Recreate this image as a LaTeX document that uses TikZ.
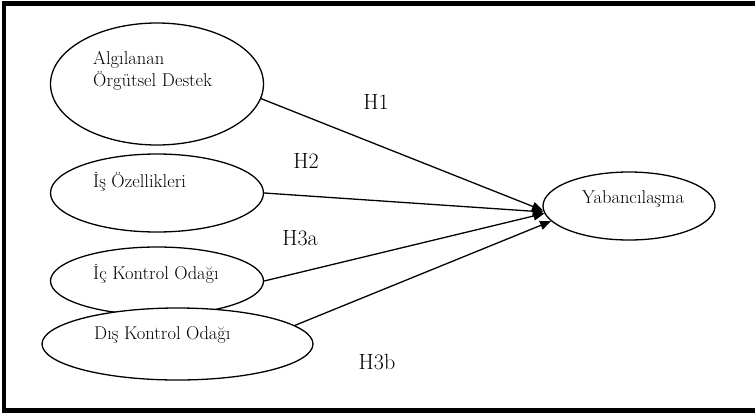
\documentclass[tikz,border=0pt]{standalone}
\usepackage{fontspec}
\usetikzlibrary{shapes.geometric,arrows.meta}
\begin{document}
\begin{tikzpicture}[x=1pt,y=-1pt,
  ell/.style={ellipse,draw,line width=1.3pt,fill=white,inner sep=0pt},
  lbl/.style={font=\fontsize{18.5}{22}\selectfont,inner sep=0pt,anchor=west,align=left},
  hyp/.style={font=\fontsize{22}{26}\selectfont,inner sep=0pt},
  conn/.style={line width=1.3pt,-{Triangle[length=11pt,width=9pt]}}]
\useasboundingbox (0,0) rectangle (755,413);
\draw[line width=4.5pt] (4,3.5) rectangle (770,410.5);
% ellipses
\node[ell,minimum width=213pt,minimum height=122pt] (e1) at (157,84) {};
\node[ell,minimum width=213pt,minimum height=78pt] (e2) at (157,193) {};
\node[ell,minimum width=213pt,minimum height=68pt] (e3) at (157,281) {};
\node[ell,minimum width=271pt,minimum height=72pt] (e4) at (177.5,344) {};
\node[ell,minimum width=172pt,minimum height=68pt] (y) at (629,206) {};
% texts
\node[lbl] (t1) at (93,71) {Algılanan\\Örgütsel Destek};
\node[lbl] (t2) at (93,182) {İş Özellikleri};
\node[lbl] (t3) at (93,274) {İç Kontrol Odağı};
\node[lbl] (t4) at (94,335) {Dış Kontrol Odağı};
\node[lbl] (ty) at (582,199) {Yabancılaşma};
% hypothesis labels
\node[hyp] (h1) at (376,102) {H1};
\node[hyp] (h2) at (306,161) {H2};
\node[hyp] (h3a) at (300,238) {H3a};
\node[hyp] (h3b) at (377,362) {H3b};
% connectors
\draw[conn] (e1.-8) -- (y.183);
\draw[conn] (e2.east) -- (y.184);
\draw[conn] (e3.east) -- (y.185.5);
\draw[conn] (e4.9) -- (y.191);
\end{tikzpicture}
\end{document}
